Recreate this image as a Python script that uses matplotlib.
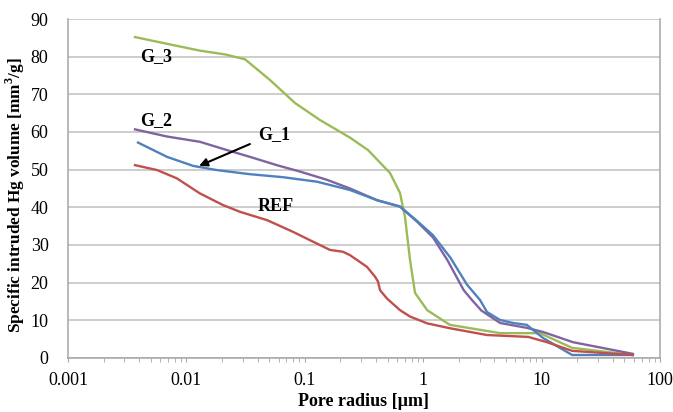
import numpy as np
import matplotlib.pyplot as plt
from matplotlib.ticker import LogLocator, FixedLocator, NullFormatter

# Pore radius [um] and intruded volume [mm3/g]
g3_r = [0.00368, 0.0069, 0.013, 0.0212, 0.0313, 0.0508, 0.0826, 0.134, 0.241, 0.342,
        0.525, 0.637, 0.702, 0.774, 0.853, 1.08, 1.68, 4.46, 9.7, 18.1, 59]
g3_v = [85.2, 83.4, 81.6, 80.6, 79.3, 73.8, 67.7, 63.2, 58.5, 55.2,
        49.1, 43.8, 37.4, 26.0, 17.3, 12.7, 8.8, 6.6, 6.6, 2.7, 0.8]

g2_r = [0.00368, 0.00686, 0.013, 0.022, 0.0344, 0.058, 0.091, 0.154, 0.241, 0.407,
        0.637, 0.887, 1.21, 1.6, 2.2, 2.58, 3.1, 4.46, 7.5, 10.3, 18.4, 59]
g2_v = [60.7, 58.8, 57.4, 55.2, 53.4, 51.2, 49.5, 47.3, 45.0, 41.9,
        40.2, 36.2, 32.0, 26.0, 18.0, 15.4, 12.6, 9.3, 8.0, 6.9, 4.2, 1.1]

g1_r = [0.0039, 0.00686, 0.0114, 0.018, 0.0344, 0.0655, 0.127, 0.241, 0.407, 0.637,
        0.887, 1.21, 1.7, 2.34, 3.02, 3.46, 4.46, 5.73, 7.5, 10.3, 18.1, 59]
g1_v = [57.2, 53.4, 51.0, 49.9, 48.8, 48.0, 46.8, 44.6, 41.9, 40.2,
        36.4, 32.6, 26.6, 19.5, 15.4, 12.2, 10.1, 9.3, 8.8, 5.3, 0.8, 0.8]

ref_r = [0.00368, 0.00565, 0.0083, 0.013, 0.0204, 0.0284, 0.048, 0.0794, 0.117, 0.163,
         0.21, 0.241, 0.335, 0.392, 0.415, 0.432, 0.494, 0.637, 0.774, 1.08,
         1.68, 3.46, 7.7, 11.1, 18.1, 59]
ref_v = [51.2, 49.9, 47.7, 43.7, 40.6, 38.8, 36.6, 33.5, 30.9, 28.7,
         28.2, 27.3, 24.2, 21.6, 20.3, 18.0, 15.8, 12.7, 11.0, 9.2,
         7.9, 6.1, 5.6, 4.2, 1.9, 0.8]

plt.rcParams['font.family'] = ['Liberation Serif', 'DejaVu Serif']
plt.rcParams['mathtext.fontset'] = 'custom'
plt.rcParams['mathtext.bf'] = 'Liberation Serif:bold'
plt.rcParams['mathtext.rm'] = 'Liberation Serif'

fig = plt.figure(figsize=(6.73, 4.12), dpi=100)
ax = fig.add_axes([68 / 673, 1 - 358 / 412, 592 / 673, 339 / 412])

ax.plot(g3_r, g3_v, color='#9bbb59', lw=1.7)
ax.plot(g2_r, g2_v, color='#8064a2', lw=1.7)
ax.plot(g1_r, g1_v, color='#4f81bd', lw=1.7)
ax.plot(ref_r, ref_v, color='#c0504d', lw=1.7)

ax.set_xscale('log')
ax.set_xlim(0.001, 100)
ax.set_ylim(0, 90)
ax.set_yticks(range(0, 91, 10))
ax.xaxis.set_major_locator(FixedLocator([0.001, 0.01, 0.1, 1, 10, 100]))
ax.set_xticklabels(['0.001', '0.01', '0.1', '1', '10', '100'])
ax.xaxis.set_minor_locator(LogLocator(base=10, subs=np.arange(2, 10)))
ax.xaxis.set_minor_formatter(NullFormatter())

ax.grid(axis='y', color='#c0c0c0', lw=1.1)
ax.set_axisbelow(True)
for s in ax.spines.values():
    s.set_color('#a6a6a6')
    s.set_linewidth(1.1)
ax.spines['top'].set_visible(False)

ax.tick_params(axis='x', which='both', direction='out', length=3, color='#a6a6a6',
               labelsize=13, pad=7)
ax.tick_params(axis='y', length=0, labelsize=13, pad=14)

ax.set_xlabel('Pore radius [µm]', fontsize=13, fontweight='bold', labelpad=3)
ax.set_ylabel(r'Specific intruded Hg volume [mm$^\mathbf{3}$/g]', fontsize=12.4,
              fontweight='bold')
ax.yaxis.set_label_coords(-0.069, 0.48)

ax.text(0.00405, 80, 'G_3', fontsize=13, fontweight='bold', va='center')
ax.text(0.00405, 63, 'G_2', fontsize=13, fontweight='bold', va='center')
ax.text(0.0403, 59.2, 'G_1', fontsize=13, fontweight='bold', va='center')
ax.text(0.0403, 40.3, 'REF', fontsize=13, fontweight='bold', va='center')
ax.annotate('', xy=(0.0128, 51.0), xytext=(0.0344, 56.8),
            arrowprops=dict(arrowstyle='-|>', color='black', lw=1.5,
                            mutation_scale=12, shrinkA=0, shrinkB=0))

fig.savefig('out.png', dpi=100)
